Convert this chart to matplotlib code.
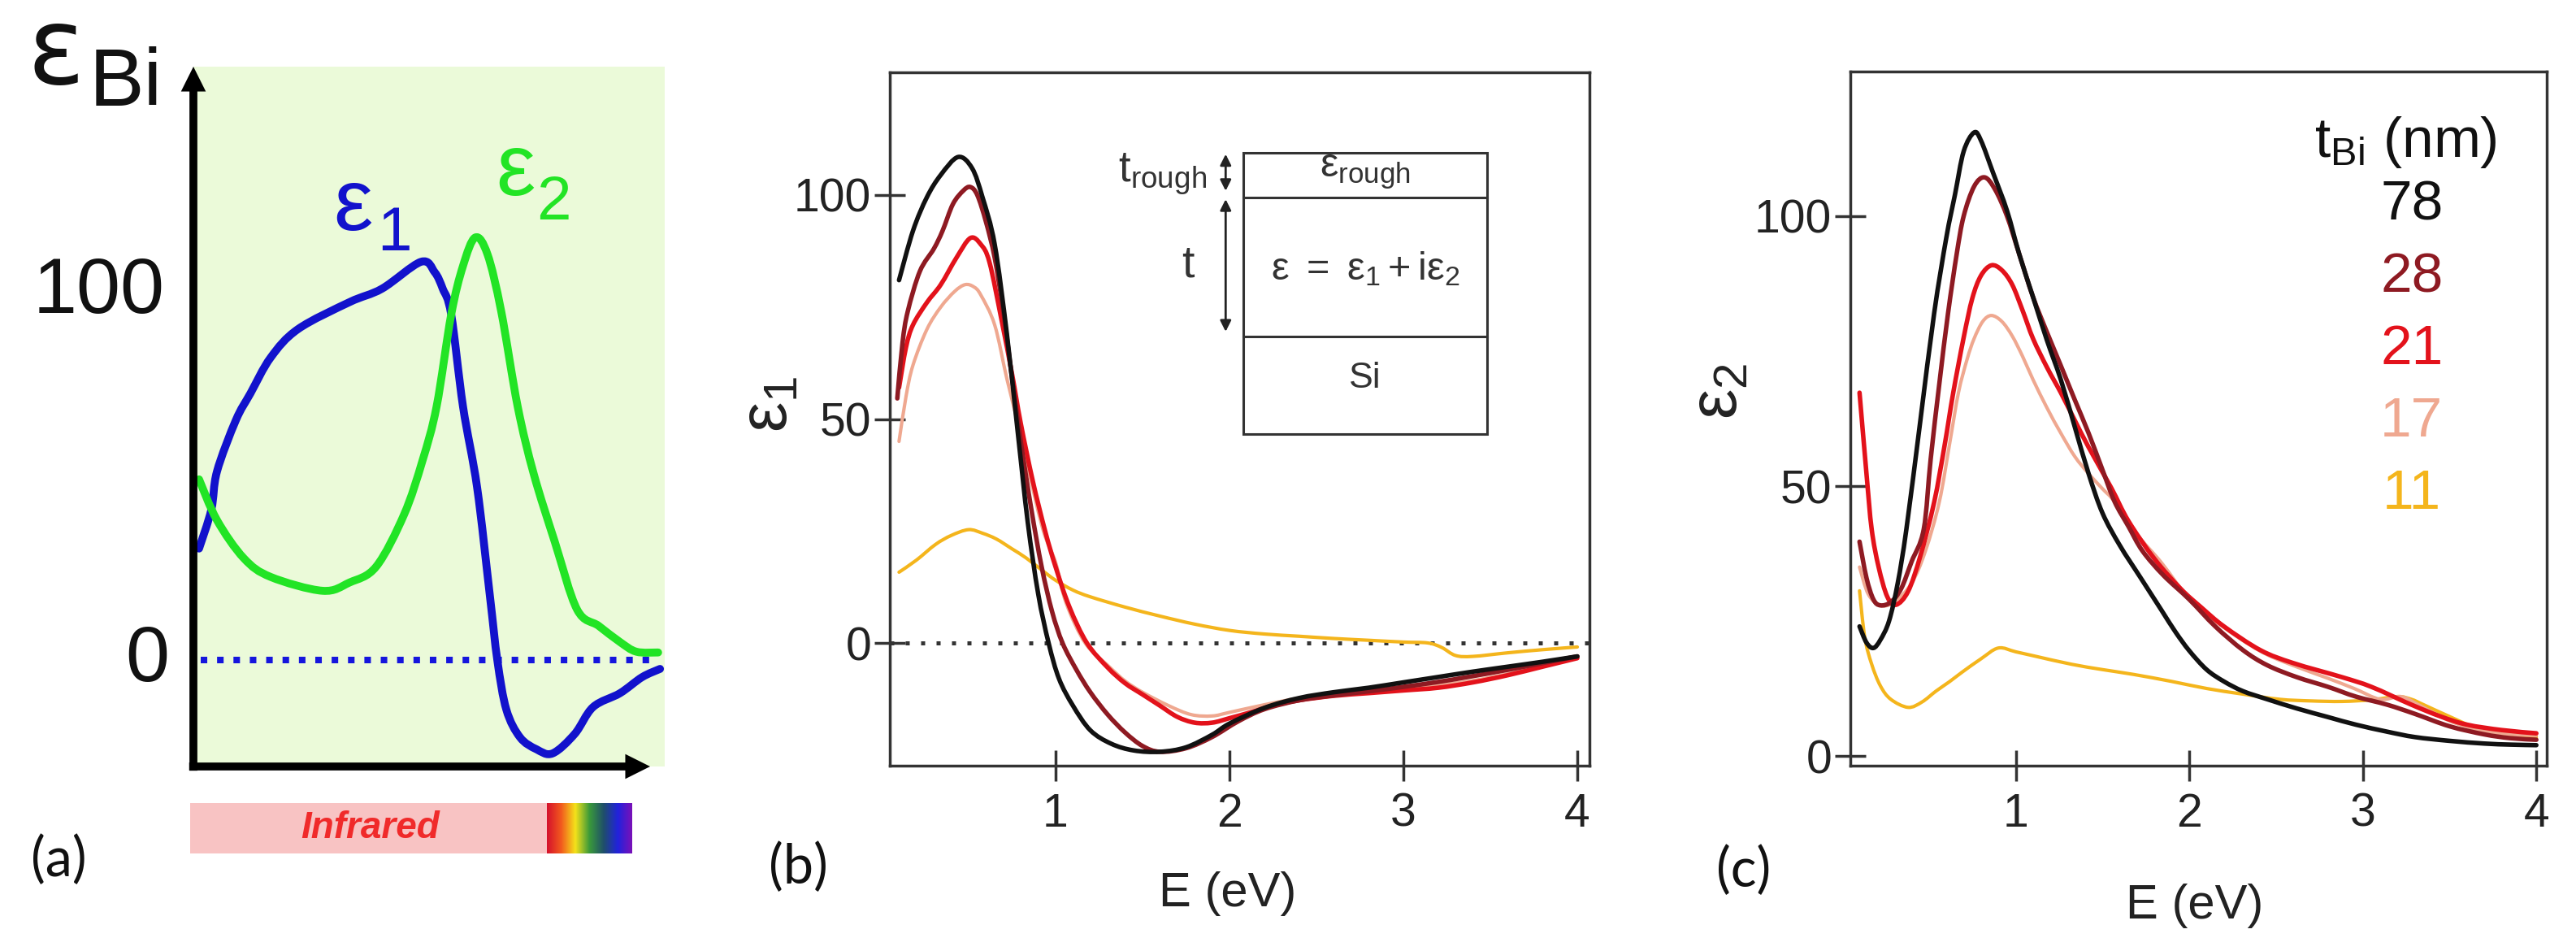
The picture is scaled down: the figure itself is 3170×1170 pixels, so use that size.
import numpy as np
import matplotlib
matplotlib.use('Agg')
import matplotlib.pyplot as plt
from matplotlib.patches import Rectangle, PathPatch
from matplotlib.path import Path
from matplotlib.colors import LinearSegmentedColormap

# ---------------- data ----------------
# panel (a): schematic dielectric function of Bi (x: relative photon energy 0..1)
a_x1 = [0.012, 0.038, 0.050, 0.090, 0.121, 0.164, 0.222, 0.331, 0.400, 0.483, 0.512, 0.529, 0.547,
        0.572, 0.602, 0.629, 0.645, 0.664, 0.693, 0.728, 0.762, 0.809, 0.848, 0.905, 0.952, 0.990]
a_eps1 = [29.8, 40.2, 50.4, 64.1, 71.3, 80.9, 88.5, 95.7, 99.3, 106.5, 103.7, 99.3, 92.4,
          67.8, 46.1, 17.2, -0.2, -13.3, -20.7, -23.9, -25.0, -19.8, -12.6, -8.9, -4.6, -2.4]
a_x2 = [0.012, 0.050, 0.107, 0.164, 0.274, 0.331, 0.388, 0.447, 0.486, 0.516, 0.547, 0.572,
        0.598, 0.624, 0.653, 0.688, 0.722, 0.767, 0.814, 0.860, 0.905, 0.940, 0.986]
a_eps2 = [48.3, 37.4, 27.2, 22.2, 18.5, 20.7, 25.0, 38.9, 53.3, 67.8, 92.4, 105.4,
          113.0, 108.5, 93.3, 67.8, 49.8, 31.5, 13.5, 9.1, 4.8, 2.2, 2.0]

# panel (b): eps1 vs E (eV) for each Bi thickness
b_E_78 = [0.10, 0.18, 0.26, 0.34, 0.44, 0.52, 0.58, 0.65, 0.72, 0.78, 0.84, 0.90, 0.96, 1.02, 1.10, 1.20,
          1.32, 1.45, 1.60, 1.75, 1.90, 2.00, 2.20, 2.40, 2.60, 2.80, 3.00, 3.20, 3.40, 3.60, 3.80, 4.00]
b_e1_78 = [81, 92, 99.5, 104.5, 108.5, 106, 99.5, 89, 69, 48, 27, 11, 0, -8, -14, -19.5,
           -22.5, -24, -24.3, -23.3, -20.5, -18, -14.5, -12.3, -11, -10, -8.8, -7.6, -6.4, -5.3, -4.2, -3.0]
b_E_28 = [0.09, 0.12, 0.15, 0.22, 0.30, 0.35, 0.41, 0.47, 0.51, 0.55, 0.60, 0.65, 0.70, 0.74, 0.80, 0.86,
          0.92, 0.98, 1.04, 1.12, 1.20, 1.30, 1.40, 1.50, 1.60, 1.75, 1.90, 2.05, 2.20, 2.40, 2.60, 2.80,
          3.00, 3.20, 3.40, 3.60, 3.80, 4.00]
b_e1_28 = [54.6, 67, 74, 83, 88, 92, 98, 101, 101.8, 100, 94, 86, 74, 62, 45, 30,
           17, 7, 0, -6, -11, -16, -20, -23, -24.3, -23.5, -21, -17.5, -14.8, -12.8, -11.7, -10.8,
           -9.8, -8.7, -7.4, -6.0, -4.5, -3.0]
b_E_21 = [0.10, 0.14, 0.18, 0.26, 0.34, 0.43, 0.51, 0.57, 0.62, 0.69, 0.75, 0.80, 0.87, 0.94, 1.00, 1.08,
          1.18, 1.30, 1.40, 1.50, 1.60, 1.70, 1.80, 1.90, 2.00, 2.12, 2.25, 2.40, 2.60, 2.80, 3.00, 3.20,
          3.40, 3.60, 3.80, 4.00]
b_e1_21 = [57, 66, 71, 76, 80, 86, 90.4, 89, 85, 72, 60, 49, 36, 25, 17, 8,
           0, -5.5, -9, -11.5, -14, -16.5, -17.8, -17.8, -16.8, -15.5, -14, -12.8, -11.8, -11.2, -10.6, -10,
           -8.8, -7.2, -5.3, -3.4]
b_E_17 = [0.10, 0.14, 0.18, 0.26, 0.34, 0.42, 0.48, 0.53, 0.57, 0.65, 0.72, 0.79, 0.85, 0.93, 1.00, 1.06,
          1.17, 1.30, 1.40, 1.50, 1.65, 1.78, 1.90, 2.00, 2.20, 2.40, 2.60, 2.80, 3.00, 3.20, 3.40, 3.60,
          3.80, 4.00]
b_e1_17 = [45, 55, 62, 70, 75, 78.5, 80, 79.5, 77.7, 71, 59, 48, 37.7, 25, 18, 9,
           0, -5, -8.5, -11, -14, -16, -16.3, -15.5, -13.8, -12.3, -11.3, -10.6, -10, -9.4, -8.4, -6.9,
           -5.1, -3.3]
b_E_11 = [0.10, 0.20, 0.31, 0.40, 0.50, 0.58, 0.66, 0.75, 0.83, 0.92, 1.00, 1.10, 1.20, 1.40, 1.60, 1.80,
          2.00, 2.20, 2.40, 2.60, 2.80, 3.00, 3.14, 3.22, 3.30, 3.40, 3.60, 3.80, 4.00]
b_e1_11 = [15.8, 18.5, 22, 24, 25.3, 24.5, 23.2, 21, 19, 16.3, 14, 11.8, 10.3, 8, 6, 4.2,
           2.8, 2, 1.5, 1, 0.6, 0.2, 0, -1, -2.8, -3, -2.2, -1.5, -0.9]

# panel (c): eps2 vs E (eV)
c_E_78 = [0.10, 0.14, 0.18, 0.22, 0.27, 0.32, 0.37, 0.45, 0.53, 0.60, 0.65, 0.70, 0.76, 0.80, 0.87, 0.95,
          1.02, 1.10, 1.18, 1.26, 1.34, 1.42, 1.50, 1.60, 1.72, 1.84, 1.92, 2.00, 2.10, 2.20, 2.31, 2.45,
          2.62, 2.80, 2.96, 3.14, 3.30, 3.50, 3.70, 3.85, 4.00]
c_e2_78 = [24, 21, 20, 21.5, 25, 32, 42, 62, 82, 96, 104, 112, 115.5, 114, 108, 101,
           93, 85, 77, 69.7, 61, 52.3, 45, 39, 33, 27, 23, 19.5, 16, 13.8, 12, 10.5,
           8.8, 7.2, 5.8, 4.5, 3.5, 2.8, 2.3, 2.1, 2.0]
c_E_28 = [0.10, 0.14, 0.18, 0.22, 0.28, 0.34, 0.40, 0.47, 0.51, 0.56, 0.61, 0.66, 0.70, 0.76, 0.82, 0.88,
          0.95, 1.02, 1.10, 1.18, 1.26, 1.34, 1.42, 1.50, 1.57, 1.65, 1.73, 1.85, 2.00, 2.15, 2.31, 2.45,
          2.62, 2.80, 2.96, 3.14, 3.30, 3.50, 3.70, 3.85, 4.00]
c_e2_28 = [39.7, 33, 29, 27.9, 28.5, 31, 36, 42, 55, 69, 82, 93, 100, 105.5, 107.2, 105,
           100, 93, 85, 78.5, 72.3, 66, 59.8, 53, 47.1, 42.5, 38, 33.5, 29, 24, 19.6, 16.8,
           14.6, 12.8, 11, 9.5, 7.8, 5.5, 4.0, 3.3, 3.0]
c_E_21 = [0.10, 0.14, 0.17, 0.21, 0.26, 0.31, 0.38, 0.45, 0.53, 0.59, 0.64, 0.70, 0.75, 0.80, 0.86, 0.92,
          0.98, 1.04, 1.10, 1.18, 1.26, 1.34, 1.42, 1.55, 1.65, 1.80, 1.95, 2.07, 2.20, 2.41, 2.60, 2.88,
          3.05, 3.28, 3.45, 3.60, 3.80, 4.00]
c_e2_21 = [67.3, 52.3, 42, 35, 29.5, 28, 30.5, 37, 47, 57.5, 67.3, 77.5, 84.8, 89, 90.9, 90,
           87.3, 82.5, 77.3, 72, 67.3, 62.2, 57.2, 49.7, 43.5, 36.5, 31, 27.5, 24, 19.6, 17.2, 14.6,
           12.8, 9.5, 7.3, 5.8, 4.8, 4.2]
c_E_17 = [0.10, 0.15, 0.22, 0.30, 0.40, 0.48, 0.56, 0.62, 0.67, 0.72, 0.76, 0.81, 0.86, 0.92, 0.98, 1.04,
          1.10, 1.18, 1.26, 1.34, 1.42, 1.50, 1.57, 1.70, 1.84, 2.00, 2.12, 2.28, 2.44, 2.62, 2.79, 2.95,
          3.10, 3.22, 3.32, 3.50, 3.66, 3.85, 4.00]
c_e2_17 = [35, 30, 27.9, 28.5, 32, 38, 47.1, 58, 67.3, 73.5, 77.3, 80.5, 81.6, 80.5, 77.8, 74,
           69.7, 64.5, 59.8, 55.5, 52.3, 49.5, 47.1, 41, 35.8, 29, 25.7, 22, 18.9, 16.5, 14.5, 12.5,
           10.5, 11, 9.5, 6.5, 4.9, 4.0, 3.8]
c_E_11 = [0.10, 0.13, 0.17, 0.22, 0.28, 0.38, 0.46, 0.54, 0.62, 0.69, 0.80, 0.90, 1.00, 1.11, 1.32, 1.50,
          1.68, 1.90, 2.10, 2.30, 2.52, 2.70, 2.88, 3.05, 3.20, 3.28, 3.35, 3.50, 3.67, 3.85, 4.00]
c_e2_11 = [30.6, 22, 17, 13, 10.5, 9.0, 10, 12, 13.8, 15.5, 18, 20, 19.3, 18.5, 17, 16,
           15.1, 13.8, 12.5, 11.5, 10.5, 10.2, 10.1, 10.4, 11.0, 10.5, 9.5, 7.3, 5.0, 4.0, 3.5]

thickness_labels = ['78', '28', '21', '17', '11']
thickness_colors = ['#111111', '#8e1a22', '#e3121b', '#efa890', '#f4b51c']
line_widths = [4.0, 4.0, 4.0, 3.0, 3.0]
b_series = [(b_E_78, b_e1_78), (b_E_28, b_e1_28), (b_E_21, b_e1_21), (b_E_17, b_e1_17), (b_E_11, b_e1_11)]
c_series = [(c_E_78, c_e2_78), (c_E_28, c_e2_28), (c_E_21, c_e2_21), (c_E_17, c_e2_17), (c_E_11, c_e2_11)]
draw_order = [4, 3, 2, 1, 0]

E_ticks = [1, 2, 3, 4]
eps_ticks = [0, 50, 100]

# ---------------- figure ----------------
W, H = 3170, 1170
plt.rcParams['font.family'] = ['Liberation Sans', 'DejaVu Sans']
plt.rcParams['mathtext.fontset'] = 'custom'
plt.rcParams['mathtext.rm'] = 'Liberation Sans'
plt.rcParams['mathtext.it'] = 'Liberation Sans:italic'
plt.rcParams['mathtext.bf'] = 'Liberation Sans:bold'

fig = plt.figure(figsize=(W / 100, H / 100), dpi=100)
fig.patch.set_facecolor('white')


def rect(l, t, r, b):
    return [l / W, 1 - b / H, (r - l) / W, (b - t) / H]


def fx(px):
    return px / W


def fy(py):
    return 1 - py / H


def smooth_line(ax, x, y, color, lw, zorder=2):
    """Draw the series as a smooth Catmull-Rom (cubic Bezier) path through its points."""
    pts = np.column_stack([np.asarray(x, float), np.asarray(y, float)])
    n = len(pts)
    verts = [pts[0]]
    codes = [Path.MOVETO]
    for i in range(n - 1):
        p0 = pts[i - 1] if i > 0 else pts[i]
        p1, p2 = pts[i], pts[i + 1]
        p3 = pts[i + 2] if i + 2 < n else pts[i + 1]
        verts += [p1 + (p2 - p0) / 6.0, p2 - (p3 - p1) / 6.0, p2]
        codes += [Path.CURVE4] * 3
    ax.add_patch(PathPatch(Path(verts, codes), fill=False, edgecolor=color, lw=lw,
                           capstyle='round', joinstyle='round', zorder=zorder))


TXT = '#222222'

# ---------- panel (a) ----------
axa = fig.add_axes(rect(238, 82, 818, 943))
axa.set_facecolor('#ebfad9')
axa.set_xlim(0, 1)
axa.set_ylim(-28.5, 158.7)
for s in axa.spines.values():
    s.set_visible(False)
axa.set_xticks([])
axa.set_yticks([])
axa.axhline(0, xmin=0.015, xmax=0.985, color='#1515dd', lw=5.8, ls=(0, (1, 1.5)))
smooth_line(axa, a_x1, a_eps1, '#1212cc', 7)
smooth_line(axa, a_x2, a_eps2, '#22e425', 7)
arrow_kw = dict(facecolor='black', edgecolor='none', width=7, headwidth=22, headlength=22, shrink=0)
axa.annotate('', xy=(0, 1), xytext=(0, -0.006), xycoords='axes fraction', textcoords='axes fraction',
             arrowprops=arrow_kw, annotation_clip=False)
axa.annotate('', xy=(0.969, 0), xytext=(-0.009, 0), xycoords='axes fraction', textcoords='axes fraction',
             arrowprops=arrow_kw, annotation_clip=False)

fig.text(fx(203), fy(385), '100', ha='right', va='baseline', fontsize=70, color='#111')
fig.text(fx(208), fy(838), '0', ha='right', va='baseline', fontsize=70, color='#111')
fig.text(fx(34), fy(3), 'ε', ha='left', va='top', fontsize=94, color='#111',
         fontfamily='DejaVu Sans')
fig.text(fx(110), fy(130), 'Bi', ha='left', va='baseline', fontsize=73, color='#111')
fig.text(fx(410), fy(283), 'ε', ha='left', va='baseline', fontsize=78, color='#1212cc')
fig.text(fx(464), fy(308), '1', ha='left', va='baseline', fontsize=55, color='#1212cc')
fig.text(fx(610), fy(240), 'ε', ha='left', va='baseline', fontsize=78, color='#22e425')
fig.text(fx(660), fy(270), '2', ha='left', va='baseline', fontsize=55, color='#22e425')

# spectrum bar
axbar = fig.add_axes(rect(234, 988, 778, 1050))
axbar.axis('off')
ir_end = (673 - 234) / (778 - 234)
axbar.add_patch(Rectangle((0, 0), ir_end, 1, facecolor='#f8c3c3', edgecolor='none'))
rainbow = LinearSegmentedColormap.from_list(
    'rb', ['#d5102c', '#f25a1e', '#f5e21a', '#3a9a3a', '#1f4f6a', '#2222dd', '#7a10b8'])
axbar.imshow(np.linspace(0, 1, 256)[None, :], cmap=rainbow, aspect='auto',
             extent=[ir_end, 1, 0, 1])
axbar.set_xlim(0, 1)
axbar.set_ylim(0, 1)
axbar.text((456 - 234) / 544, 0.5, 'Infrared', ha='center', va='center', fontsize=33,
           fontweight='bold', fontstyle='italic', color='#f02a2a')

# panel letters
for lbl, px, py in [('(a)', 38, 1059), ('(b)', 946, 1068), ('(c)', 2112, 1072)]:
    fig.text(fx(px), fy(py), lbl, ha='left', va='center', fontsize=48, color='#111',
             fontfamily='Lato')


def style_axes(ax):
    for s in ax.spines.values():
        s.set_linewidth(2.5)
        s.set_color('#333333')
    ax.set_xticks(E_ticks)
    ax.set_yticks(eps_ticks)
    ax.tick_params(direction='inout', length=27, width=2.5, color='#333333',
                   labelsize=41, labelcolor=TXT)
    ax.tick_params(axis='x', pad=10)
    ax.tick_params(axis='y', pad=3)


# ---------- panel (b) ----------
axb = fig.add_axes(rect(1095, 89, 1956, 942))
axb.set_xlim(0.047, 4.07)
axb.set_ylim(-27.4, 127.4)
style_axes(axb)
axb.axhline(0, color='#333333', lw=3.6, ls=(0, (1, 2.8)), zorder=1)
for i in draw_order:
    E, v = b_series[i]
    smooth_line(axb, E, v, thickness_colors[i], line_widths[i])
axb.set_ylabel(r'$\mathregular{ε_1}$', fontsize=60, color=TXT)
axb.yaxis.set_label_coords(-0.127, 0.522)
axb.set_xlabel('E (eV)', fontsize=43, color=TXT)
axb.xaxis.set_label_coords(0.483, -0.152)

# inset layer sketch
ins_l, ins_r = 0.505, 0.854
ins_top, ins_y1, ins_y2, ins_bot = 0.884, 0.819, 0.619, 0.478
axb.add_patch(Rectangle((ins_l, ins_bot), ins_r - ins_l, ins_top - ins_bot, transform=axb.transAxes,
                        fill=False, lw=2.2, edgecolor='#333333', zorder=5))
for yy in (ins_y1, ins_y2):
    axb.plot([ins_l, ins_r], [yy, yy], transform=axb.transAxes, color='#333333', lw=2.2, zorder=5)
xc = (ins_l + ins_r) / 2
axb.text(xc, 0.856, r'$\mathregular{ε_{rough}}$', transform=axb.transAxes, ha='center', va='center',
         fontsize=36, color='#333333')
axb.text(xc, 0.717, r'$\mathregular{ε\ =\ ε_1 + iε_2}$', transform=axb.transAxes, ha='center',
         va='center', fontsize=35, color='#333333')
axb.text(xc, 0.559, 'Si', transform=axb.transAxes, ha='center', va='center', fontsize=32, color='#333333')
axb.text(0.453, 0.853, r'$\mathregular{t_{rough}}$', transform=axb.transAxes, ha='right', va='center',
         fontsize=38, color='#333333')
axb.text(0.426, 0.721, 't', transform=axb.transAxes, ha='center', va='center', fontsize=40, color='#333333')
akw = dict(arrowstyle='<|-|>', color='#222222', lw=2, mutation_scale=20, shrinkA=0, shrinkB=0)
axb.annotate('', xy=(0.480, 0.882), xytext=(0.480, 0.829), xycoords='axes fraction',
             textcoords='axes fraction', arrowprops=akw)
axb.annotate('', xy=(0.480, 0.817), xytext=(0.480, 0.626), xycoords='axes fraction',
             textcoords='axes fraction', arrowprops=akw)

# ---------- panel (c) ----------
axc = fig.add_axes(rect(2277, 88, 3134, 942))
axc.set_xlim(0.047, 4.06)
axc.set_ylim(-1.8, 126.8)
style_axes(axc)
for i in draw_order:
    E, v = c_series[i]
    smooth_line(axc, E, v, thickness_colors[i], line_widths[i])
axc.set_ylabel(r'$\mathregular{ε_2}$', fontsize=60, color=TXT)
axc.yaxis.set_label_coords(-0.143, 0.539)
axc.set_xlabel('E (eV)', fontsize=43, color=TXT)
axc.xaxis.set_label_coords(0.494, -0.170)

axc.text(0.797, 0.898, r'$\mathregular{t_{Bi}}$ (nm)', transform=axc.transAxes, ha='center',
         va='center', fontsize=50, color='#111111')
for k, (lab, col) in enumerate(zip(thickness_labels, thickness_colors)):
    axc.text(0.806, 0.807 - 0.104 * k, lab, transform=axc.transAxes, ha='center', va='center',
             fontsize=50, color=col)

fig.savefig('out.png', dpi=100, facecolor='white')
